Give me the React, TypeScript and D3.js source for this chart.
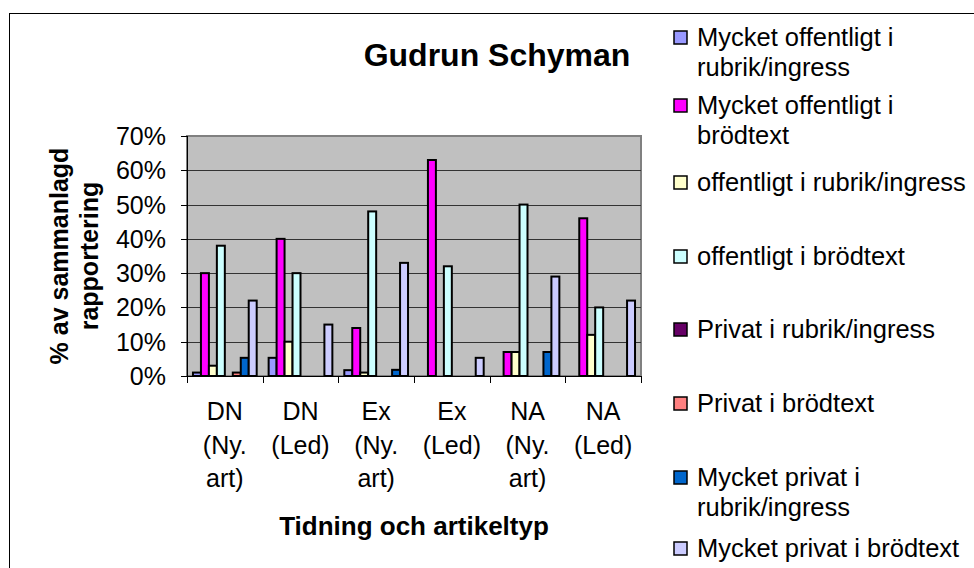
import React, { useEffect, useRef } from "react";
import * as d3 from "d3";

const categories = [
  ["DN", "(Ny.", "art)"],
  ["DN", "(Led)"],
  ["Ex", "(Ny.", "art)"],
  ["Ex", "(Led)"],
  ["NA", "(Ny.", "art)"],
  ["NA", "(Led)"],
];

const seriesNames = [
  ["Mycket offentligt i", "rubrik/ingress"],
  ["Mycket offentligt i", "brödtext"],
  ["offentligt i rubrik/ingress"],
  ["offentligt i brödtext"],
  ["Privat i rubrik/ingress"],
  ["Privat i brödtext"],
  ["Mycket privat i", "rubrik/ingress"],
  ["Mycket privat i brödtext"],
];

const seriesColors = ["#9999FF", "#FF00FF", "#FFFFCC", "#CCFFFF", "#660066", "#FF8080", "#0066CC", "#CCCCFF"];

// percent values per series, one per category
const mycketOffRubrik = [1, 5.3, 1.7, 0, 0, 0];
const mycketOffBrod = [30, 40, 14, 63, 7, 46];
const offRubrik = [3, 10, 1, 0, 7, 12];
const offBrod = [38, 30, 48, 32, 50, 20];
const privRubrik = [0, 0, 0, 0, 0, 0];
const privBrod = [1, 0, 0, 0, 0, 0];
const mycketPrivRubrik = [5.3, 0, 1.8, 0, 7, 0];
const mycketPrivBrod = [22, 15, 33, 5.3, 29, 22];

const yTicks = [0, 10, 20, 30, 40, 50, 60, 70];

const seriesValues = [
  mycketOffRubrik,
  mycketOffBrod,
  offRubrik,
  offBrod,
  privRubrik,
  privBrod,
  mycketPrivRubrik,
  mycketPrivBrod,
];

const FONT = "'Liberation Sans', Arial, sans-serif";

const App = () => {
  const ref = useRef<SVGSVGElement | null>(null);

  useEffect(() => {
    const width = 974;
    const height = 568;
    const plot = { left: 187, right: 641, top: 136, bottom: 376 };

    const svg = d3.select(ref.current).attr("width", width).attr("height", height);

    svg.append("rect").attr("width", width).attr("height", height).attr("fill", "white");

    // chart area frame
    svg
      .append("rect")
      .attr("x", 9.5)
      .attr("y", 13.5)
      .attr("width", 1000)
      .attr("height", 600)
      .attr("fill", "none")
      .attr("stroke", "#000")
      .attr("stroke-width", 1);

    const x = d3
      .scaleBand<number>()
      .domain(categories.map((_, i) => i))
      .range([plot.left, plot.right])
      .padding(0);

    const xs = d3
      .scaleBand<number>()
      .domain(seriesValues.map((_, i) => i))
      .range([0, x.bandwidth()])
      .paddingInner(0)
      .paddingOuter(0.75);

    const y = d3.scaleLinear().domain([0, 70]).range([plot.bottom, plot.top]);

    // plot background
    svg
      .append("rect")
      .attr("x", plot.left)
      .attr("y", plot.top)
      .attr("width", plot.right - plot.left)
      .attr("height", plot.bottom - plot.top)
      .attr("fill", "#C0C0C0")
      .attr("stroke", "#808080")
      .attr("stroke-width", 2);

    // gridlines
    svg
      .append("g")
      .selectAll("line")
      .data(yTicks.filter((t) => t > 0 && t < 70))
      .enter()
      .append("line")
      .attr("x1", plot.left)
      .attr("x2", plot.right)
      .attr("y1", (d) => Math.round(y(d)) + 0.5)
      .attr("y2", (d) => Math.round(y(d)) + 0.5)
      .attr("stroke", "#333")
      .attr("stroke-width", 1);

    // bars
    seriesValues.forEach((vals, s) => {
      svg
        .append("g")
        .selectAll("rect")
        .data(vals.map((v, c) => ({ v, c })).filter((d) => d.v > 0))
        .enter()
        .append("rect")
        .attr("x", (d) => (x(d.c) as number) + (xs(s) as number))
        .attr("y", (d) => y(d.v))
        .attr("width", xs.bandwidth())
        .attr("height", (d) => y(0) - y(d.v))
        .attr("fill", seriesColors[s])
        .attr("stroke", "#000")
        .attr("stroke-width", 2);
    });

    // y axis
    const yAxis = svg.append("g");
    yAxis
      .append("line")
      .attr("x1", plot.left + 0.5)
      .attr("x2", plot.left + 0.5)
      .attr("y1", plot.top)
      .attr("y2", plot.bottom)
      .attr("stroke", "#000");
    yTicks.forEach((t) => {
      const yy = Math.round(y(t)) + 0.5;
      yAxis
        .append("line")
        .attr("x1", plot.left - 6)
        .attr("x2", plot.left)
        .attr("y1", yy)
        .attr("y2", yy)
        .attr("stroke", "#000");
      yAxis
        .append("text")
        .attr("x", 166)
        .attr("y", yy)
        .attr("dy", "0.35em")
        .attr("text-anchor", "end")
        .style("font-family", FONT)
        .style("font-size", "25px")
        .text(`${t}%`);
    });

    // x axis
    const xAxis = svg.append("g");
    xAxis
      .append("line")
      .attr("x1", plot.left)
      .attr("x2", plot.right)
      .attr("y1", plot.bottom + 0.5)
      .attr("y2", plot.bottom + 0.5)
      .attr("stroke", "#000");
    d3.range(categories.length + 1).forEach((i) => {
      const xx = Math.round(plot.left + i * x.step()) + 0.5;
      xAxis
        .append("line")
        .attr("x1", xx)
        .attr("x2", xx)
        .attr("y1", plot.bottom)
        .attr("y2", plot.bottom + 7)
        .attr("stroke", "#000");
    });
    categories.forEach((lines, i) => {
      const t = xAxis
        .append("text")
        .attr("text-anchor", "middle")
        .style("font-family", FONT)
        .style("font-size", "25px");
      lines.forEach((ln, j) => {
        t.append("tspan")
          .attr("x", (x(i) as number) + x.bandwidth() / 2)
          .attr("y", 420 + j * 33.5)
          .text(ln);
      });
    });

    // titles
    svg
      .append("text")
      .attr("x", 497)
      .attr("y", 66)
      .attr("text-anchor", "middle")
      .style("font-family", FONT)
      .style("font-weight", "bold")
      .style("font-size", "32px")
      .text("Gudrun Schyman");

    svg
      .append("text")
      .attr("x", (plot.left + plot.right) / 2)
      .attr("y", 535)
      .attr("text-anchor", "middle")
      .style("font-family", FONT)
      .style("font-weight", "bold")
      .style("font-size", "26px")
      .text("Tidning och artikeltyp");

    const yt = svg
      .append("text")
      .attr("transform", `translate(0, ${(plot.top + plot.bottom) / 2}) rotate(-90)`)
      .attr("text-anchor", "middle")
      .style("font-family", FONT)
      .style("font-weight", "bold")
      .style("font-size", "25px");
    ["% av sammanlagd", "rapportering"].forEach((ln, j) => {
      yt.append("tspan")
        .attr("x", 0)
        .attr("y", 68 + j * 30)
        .text(ln);
    });

    // legend
    const legendY = [46, 114, 191, 265, 338, 412, 486, 557];
    const legend = svg.append("g");
    seriesNames.forEach((lines, s) => {
      legend
        .append("rect")
        .attr("x", 674)
        .attr("y", legendY[s] - 15)
        .attr("width", 13)
        .attr("height", 13)
        .attr("fill", seriesColors[s])
        .attr("stroke", "#000")
        .attr("stroke-width", 1.5);
      const t = legend
        .append("text")
        .style("font-family", FONT)
        .style("font-size", "25.5px");
      lines.forEach((ln, j) => {
        t.append("tspan")
          .attr("x", 697)
          .attr("y", legendY[s] + j * 30)
          .text(ln);
      });
    });

    return () => {
      d3.select(ref.current).selectAll("*").remove();
    };
  }, []);

  return (
    <svg
      ref={ref}
      style={{ position: "absolute", left: 0, top: 0, display: "block" }}
    ></svg>
  );
};

export default App;
